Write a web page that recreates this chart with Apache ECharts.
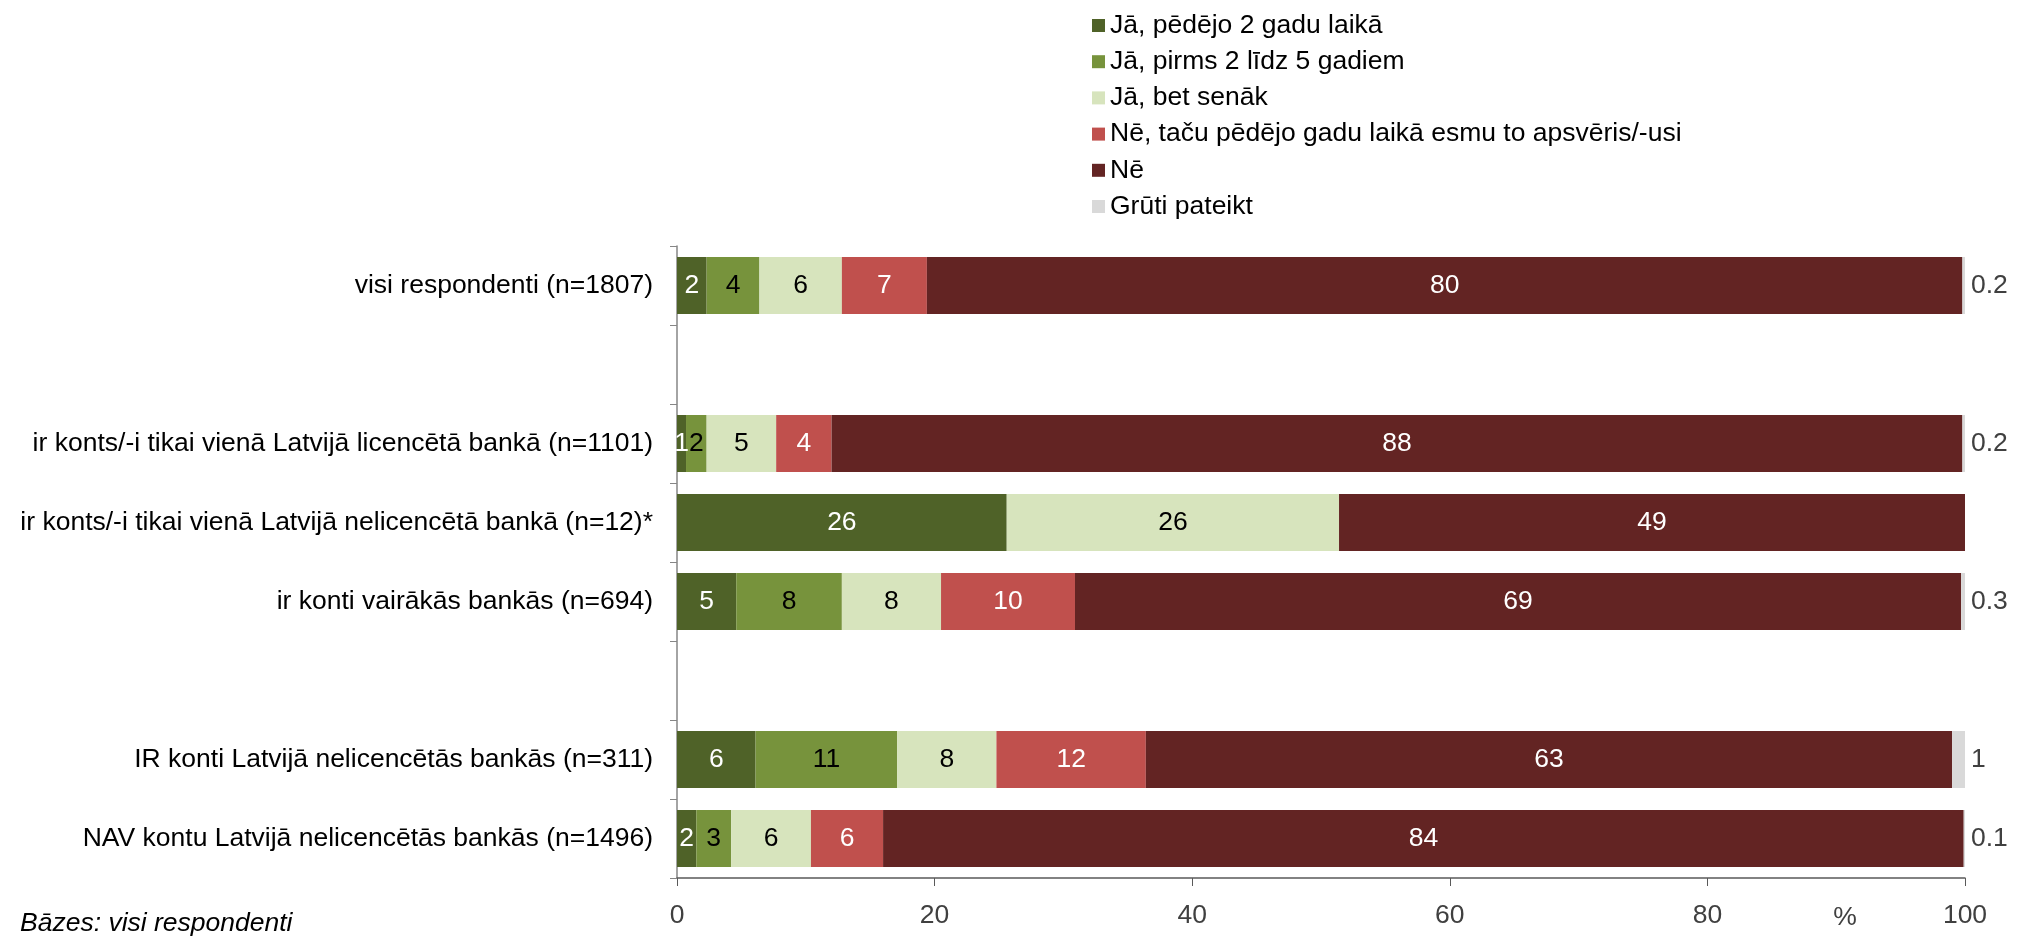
<!DOCTYPE html>
<html><head><meta charset="utf-8">
<script src="https://cdn.jsdelivr.net/npm/echarts@6/dist/echarts.min.js"></script>
<style>html,body{margin:0;padding:0;background:#fff}#c{width:2019px;height:937px}</style>
</head><body><div id="c"></div>
<script>
const categories = [
  'visi respondenti (n=1807)',
  '',
  'ir konts/-i tikai vienā Latvijā licencētā bankā (n=1101)',
  'ir konts/-i tikai vienā Latvijā nelicencētā bankā (n=12)*',
  'ir konti vairākās bankās (n=694)',
  ' ',
  'IR konti Latvijā nelicencētās bankās (n=311)',
  'NAV kontu Latvijā nelicencētās bankās (n=1496)'
];
const seriesNames = [
  'Jā, pēdējo 2 gadu laikā',
  'Jā, pirms 2 līdz 5 gadiem',
  'Jā, bet senāk',
  'Nē, taču pēdējo gadu laikā esmu to apsvēris/-usi',
  'Nē',
  'Grūti pateikt'
];
const recent2     = [2.3, null, 0.7, 25.6, 4.6, null, 6.1, 1.5];
const before2to5  = [4.1, null, 1.6, null, 8.2, null, 11.0, 2.7];
const older       = [6.4, null, 5.4, 25.8, 7.7, null, 7.7, 6.2];
const consideredNo= [6.6, null, 4.3, null, 10.4, null, 11.6, 5.6];
const no          = [80.4, null, 87.8, 48.6, 68.8, null, 62.6, 83.9];
const hardToSay   = [0.2, null, 0.2, null, 0.3, null, 1, 0.1];
const xTickStep = 20;

const FONT = 'Liberation Sans, Arial, sans-serif';
const FS = 26.5;
const colors = ['#4F6228', '#77933C', '#D7E4BD', '#C0504D', '#632423', '#D9D9D9'];
const labelColors = ['#fff', '#000', '#000', '#fff', '#fff', '#404040'];
const allData = [recent2, before2to5, older, consideredNo, no, hardToSay];

const series = allData.map((d, i) => ({
  name: seriesNames[i],
  type: 'bar',
  stack: 'total',
  data: d,
  barWidth: 57,
  itemStyle: { color: colors[i] },
  emphasis: { disabled: true },
  label: {
    show: true,
    position: i === 5 ? 'right' : 'inside',
    distance: 6,
    color: labelColors[i],
    fontSize: FS,
    fontFamily: FONT,
    textBorderWidth: 0,
    formatter: p => p.value == null ? '' : (i === 5 ? String(p.value) : String(Math.round(p.value)))
  }
}));

const chart = echarts.init(document.getElementById('c'), null, { renderer: 'canvas' });
chart.setOption({
  animation: false,
  backgroundColor: '#fff',
  textStyle: { fontFamily: FONT },
  grid: { left: 677, right: 54, top: 246, bottom: 59, containLabel: false, outerBoundsMode: 'none' },
  legend: {
    orient: 'vertical',
    left: 1087,
    top: 7,
    itemWidth: 13,
    itemHeight: 13,
    itemGap: 9.2,
    icon: 'rect',
    data: seriesNames,
    textStyle: { fontSize: FS, lineHeight: 26, color: '#000', fontFamily: FONT }
  },
  xAxis: {
    type: 'value',
    min: 0, max: 100, interval: xTickStep,
    splitLine: { show: false },
    axisLine: { show: true, lineStyle: { color: '#595959', width: 1.5 } },
    axisTick: { show: true, length: 8, lineStyle: { color: '#595959' } },
    axisLabel: { fontSize: FS, color: '#404040', margin: 24, fontFamily: FONT }
  },
  yAxis: {
    type: 'category',
    inverse: true,
    data: categories,
    axisLine: { show: true, lineStyle: { color: '#868686', width: 1.5 } },
    axisTick: { show: true, length: 7, lineStyle: { color: '#868686' } },
    axisLabel: { fontSize: FS, color: '#000', margin: 24, fontFamily: FONT }
  },
  graphic: [
    { type: 'text', x: 20, y: 924, style: { text: 'Bāzes: visi respondenti', fontSize: FS, fontStyle: 'italic', fontFamily: FONT, fill: '#000', verticalAlign: 'middle' } },
    { type: 'text', x: 1845, y: 918, style: { text: '%', fontSize: FS, fontFamily: FONT, fill: '#404040', align: 'center', verticalAlign: 'middle' } }
  ],
  series: series
});
</script></body></html>
